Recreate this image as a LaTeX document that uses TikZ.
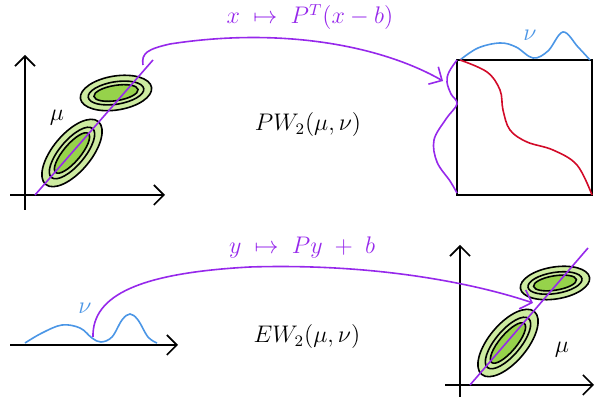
\documentclass[tikz,border=0pt]{standalone}
\usepackage{amsmath,amssymb}
\usepackage{xcolor}
\usepackage{tikz}
\usetikzlibrary{arrows.meta, positioning, calc}
\definecolor{mapviolet}{RGB}{150, 40, 235}
\definecolor{nublue}{RGB}{75, 150, 230}
\definecolor{transred}{RGB}{210, 10, 40}
\definecolor{gaussouter}{RGB}{205, 235, 160}
\definecolor{gaussinner}{RGB}{150, 210, 75}

% three nested level sets of a gaussian: center, angle, x radius, y radius
\newcommand{\gaussblob}[4]{%
  \begin{scope}[shift={#1}, rotate=#2]
    \filldraw[level] (0,0) ellipse [x radius=#3, y radius=#4];
    \filldraw[level] (0,0) ellipse [x radius=0.78*#3, y radius=0.66*#4];
    \filldraw[core]  (0,0) ellipse [x radius=0.62*#3, y radius=0.45*#4];
  \end{scope}}

\begin{document}
\begin{tikzpicture}[
  x=0.5pt, y=0.5pt,
  axis/.style={-{Straight Barb[length=5pt,width=10pt]}, line width=0.8pt},
  level/.style={draw, line width=0.8pt, fill=gaussouter},
  core/.style={draw, line width=0.8pt, fill=gaussinner},
  pline/.style={mapviolet, line width=0.8pt},
  density/.style={line width=0.8pt, line join=round},
  mapping/.style={mapviolet, line width=0.8pt, -{Straight Barb[length=5pt,width=10pt]}},
  maplabel/.style={text=mapviolet, font=\large},
  dist/.style={font=\large}
]
  \useasboundingbox (0,0) rectangle (595,405);

  % top: mu in the plane, nu on the projected plan
  \draw[axis] (10,210) -- (165,210);
  \draw[axis] (25,195) -- (25,350);
  \gaussblob{(116,312)}{9}{36}{17}
  \gaussblob{(72,252)}{50}{41}{19}
  \draw[pline] (35,210) -- (153,345);
  \node[dist] (muA) at (57,287) {$\mu$};

  \draw[line width=0.9pt] (457,210) rectangle (592,345);
  \draw[density, nublue] plot[smooth, tension=0.6] coordinates
    {(460,345) (478,357) (500,362) (516,358) (533,347) (548,354) (563,373) (578,358) (590,345)};
  \node[text=nublue, font=\large] (nuA) at (530,370) {$\nu$};
  \draw[density, mapviolet] plot[smooth, tension=0.6] coordinates
    {(457,345) (449,333) (447,323) (451,311) (457,301) (446,286) (434,265) (437,243) (450,224) (457,212)};
  \draw[density, transred] plot[smooth, tension=0.6] coordinates
    {(460,345) (487,333) (500,315) (503,295) (510,275) (527,263) (553,255) (577,240) (592,210)};

  \coordinate (pushA) at (143,340);
  \coordinate (pullA) at (443,324);
  \draw[mapping] (pushA) .. controls (141,352) and (148,356) .. (170,361)
    .. controls (280,378) and (380,360) .. (pullA);
  \node[maplabel] (mapA) at (310,388) {$x \;\mapsto\; P^{T}(x-b)$};
  \node[dist] (pw) at (308,280) {$PW_2(\mu,\nu)$};

  % bottom: nu on the line, mu in the plane
  \draw[axis] (10,60) -- (178,60);
  \draw[density, nublue] plot[smooth, tension=0.6] coordinates
    {(25,62) (42,72) (62,80) (80,77) (92,67) (101,63) (112,68) (122,85) (130,91) (138,85) (148,68) (157,62)};
  \node[text=nublue, font=\large] (nuB) at (85,97) {$\nu$};

  \draw[axis] (445,20) -- (594,20);
  \draw[axis] (460,8) -- (460,160);
  \gaussblob{(555,122)}{9}{35}{16}
  \gaussblob{(508,62)}{50}{41}{19}
  \draw[pline] (470,20) -- (588,157);
  \node[dist] (muB) at (562,55) {$\mu$};

  \coordinate (pushB) at (93,68);
  \coordinate (pullB) at (533,102);
  \draw[mapping] (pushB) .. controls (92,110) and (140,132) .. (250,138)
    .. controls (380,142) and (480,120) .. (pullB);
  \node[maplabel] (mapB) at (302,157) {$y \;\mapsto\; Py \;+\; b$};
  \node[dist] (ew) at (307,68) {$EW_2(\mu,\nu)$};
\end{tikzpicture}
\end{document}
